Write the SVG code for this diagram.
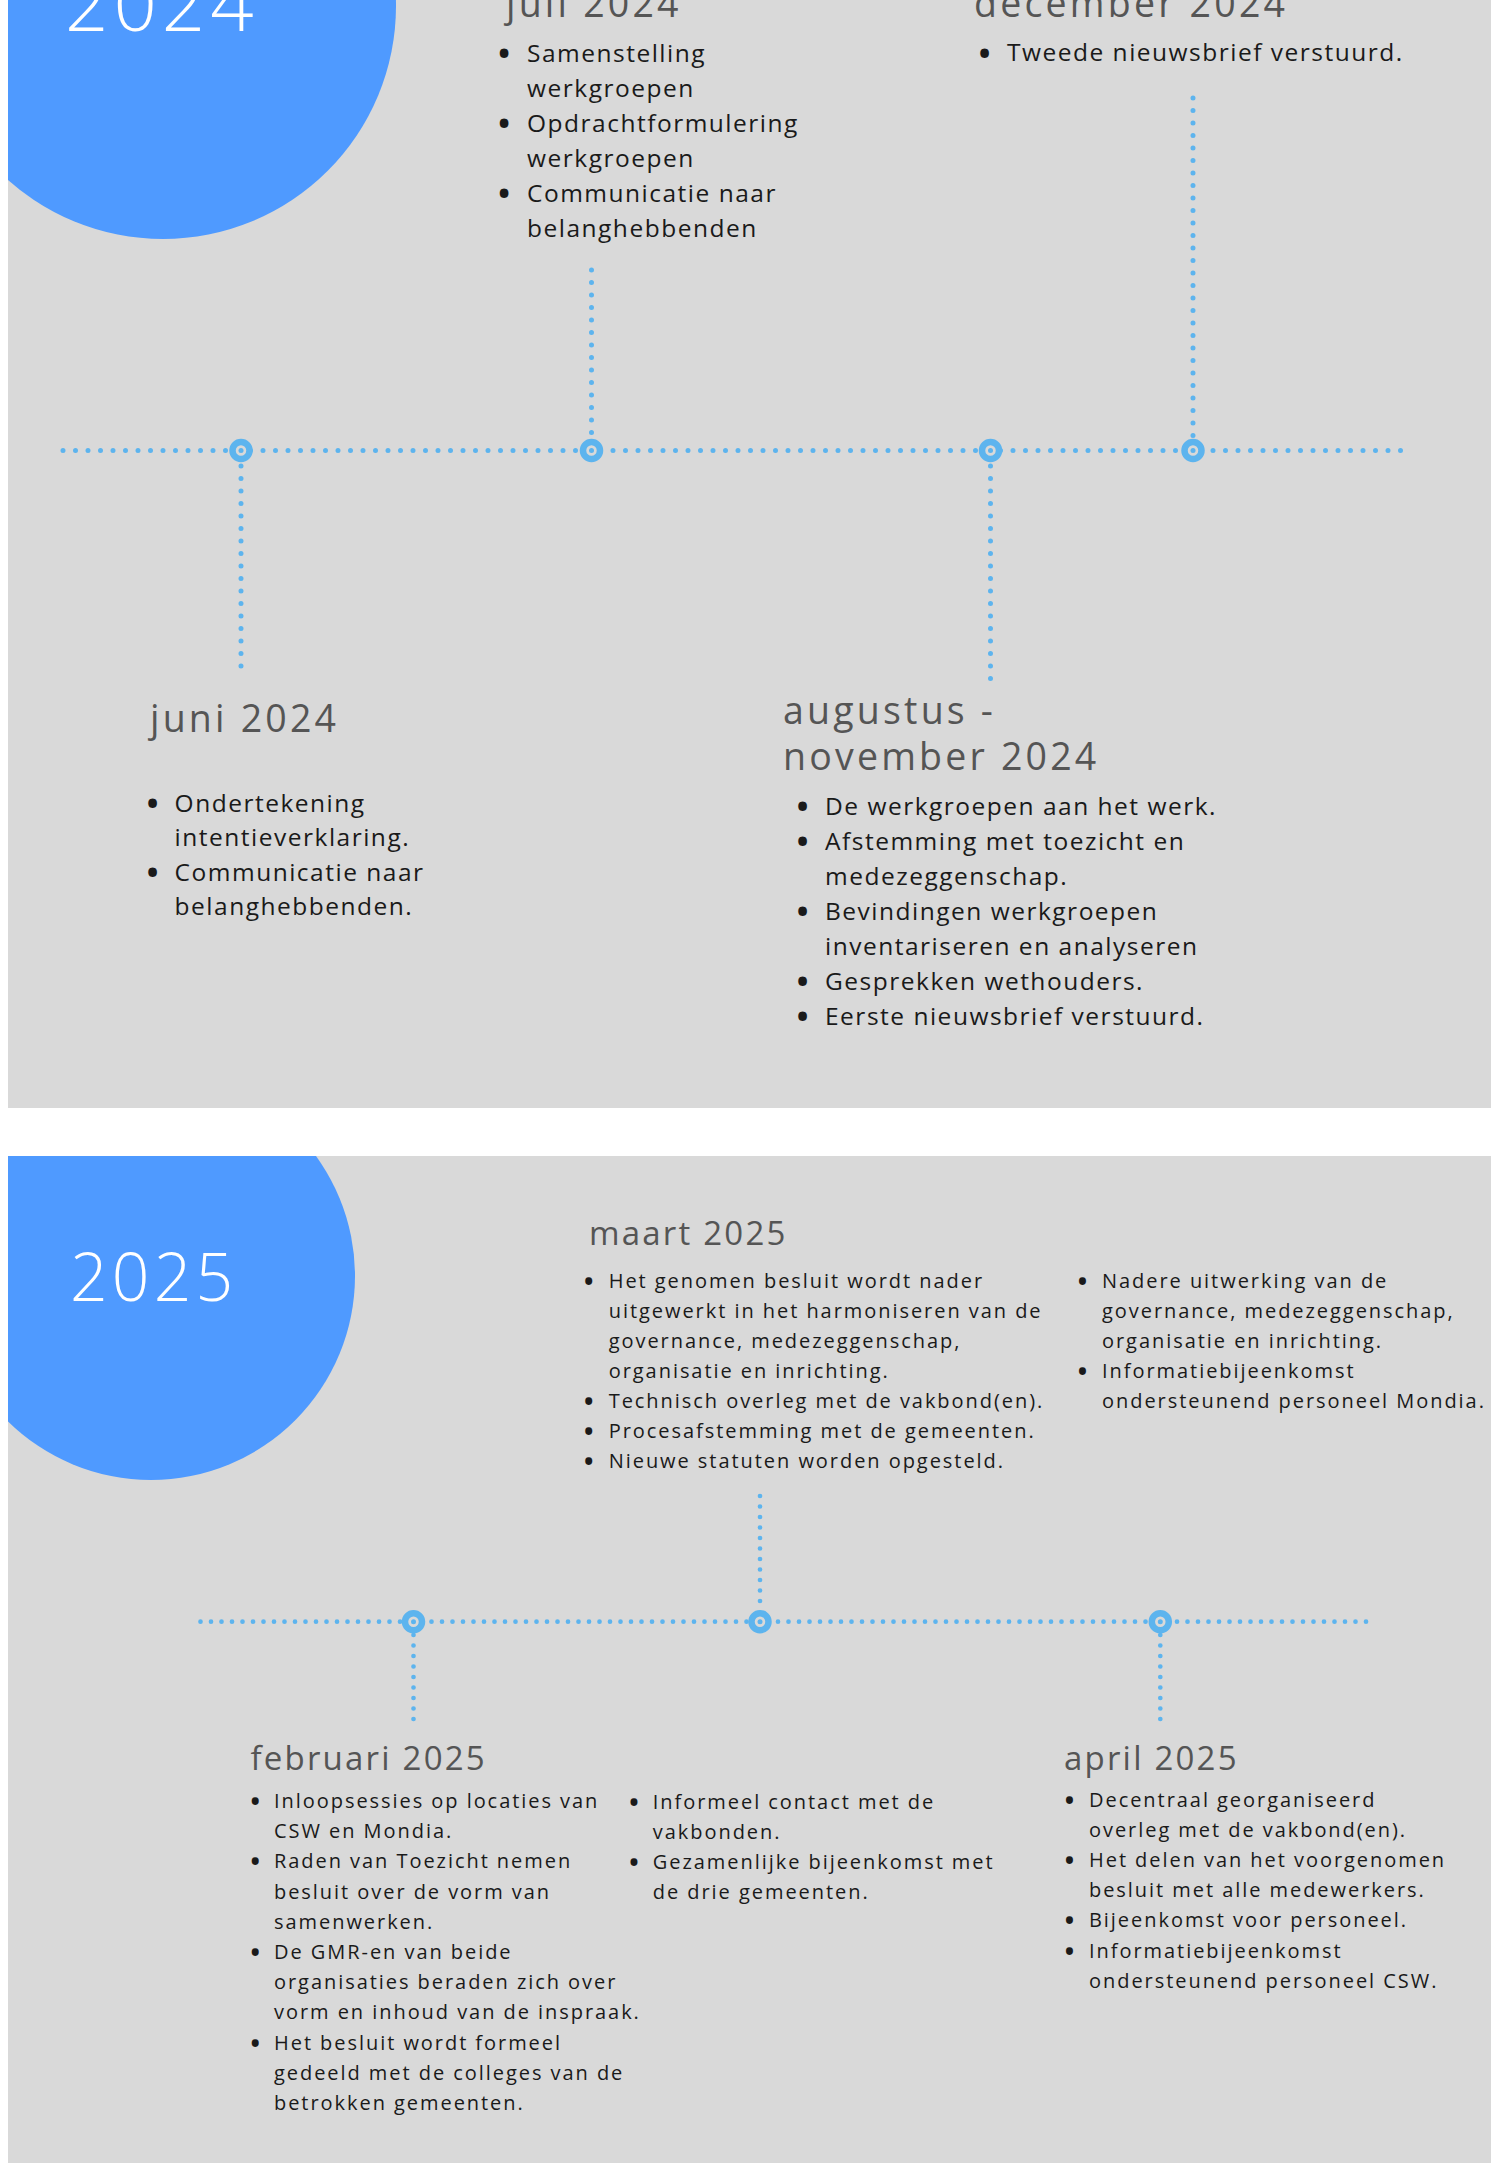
<svg xmlns="http://www.w3.org/2000/svg" width="1491" height="2172" viewBox="0 0 1491 2172">
<defs>
<clipPath id="clipTop"><rect x="8" y="0" width="1483" height="1108"/></clipPath>
<clipPath id="clipBot"><rect x="8" y="1156" width="1483" height="1007"/></clipPath>
</defs>
<style>
.panel{fill:#d9d9d9}
.yearc{fill:#4f9aff}
text{font-family:'Open Sans','Liberation Sans',sans-serif}
.yt{font-weight:300;fill:#ffffff}
.t24{font-size:37.5px;letter-spacing:3.2px;fill:#555555}
.t25{font-size:33px;letter-spacing:2.2px;fill:#555555}
.b24{font-size:24.5px;letter-spacing:1.5px;fill:#1a1a1a}
.b25{font-size:20px;letter-spacing:1.95px;fill:#1a1a1a}
.bul{letter-spacing:0px;text-anchor:middle;font-weight:700}
.b24.bul{font-size:31px}
.b25.bul{font-size:25px}
.d24{fill:none;stroke:#5db4ee;stroke-width:5;stroke-linecap:round;stroke-dasharray:0 12.5}
.d25{fill:none;stroke:#5db4ee;stroke-width:4.7;stroke-linecap:round;stroke-dasharray:0 10.5}
.ring{fill:#d9d9d9;stroke:#5db4ee;stroke-width:6.5}
.hub{fill:#5db4ee}
</style>
<rect width="1491" height="2172" fill="#ffffff"/>
<rect class="panel" x="8" y="0" width="1483" height="1108"/>
<rect class="panel" x="8" y="1156" width="1483" height="1007"/>

<g id="connectors">
<path class="d24" d="M63 450.5H1413"/>
<path class="d24" d="M241 466V668"/>
<path class="d24" d="M591.5 270V436"/>
<path class="d24" d="M990.5 466V682"/>
<path class="d24" d="M1193 98V436"/>
<path class="d25" d="M200.5 1621.7H1367"/>
<path class="d25" d="M413.5 1635V1727"/>
<path class="d25" d="M760 1496V1608"/>
<path class="d25" d="M1160.3 1635V1727"/>
</g>

<g id="year-2024" clip-path="url(#clipTop)">
<circle class="yearc" cx="163" cy="6" r="233"/>
<text class="yt" x="65" y="31" font-size="76" style="letter-spacing:5px">2024</text>
</g>

<g id="year-2025" clip-path="url(#clipBot)">
<circle class="yearc" cx="151" cy="1276" r="204"/>
<text class="yt" x="70" y="1300.7" font-size="66" style="letter-spacing:4.2px">2025</text>
</g>

<g id="juni-2024">
<circle class="ring" cx="241" cy="450.5" r="8.5"/><circle class="hub" cx="241" cy="450.5" r="2.5"/>
<text class="t24" x="150" y="731.5">juni 2024</text>
<text class="b24 bul" x="152.5" y="814">•</text>
<text class="b24 bul" x="152.5" y="883">•</text>
<text class="b24"><tspan x="174.6" y="811.5">Ondertekening</tspan><tspan x="174.6" y="846">intentieverklaring.</tspan><tspan x="174.6" y="880.5">Communicatie naar</tspan><tspan x="174.6" y="915">belanghebbenden.</tspan></text>
</g>

<g id="juli-2024">
<circle class="ring" cx="591.5" cy="450.5" r="8.5"/><circle class="hub" cx="591.5" cy="450.5" r="2.5"/>
<text class="t24" x="506" y="17">juli 2024</text>
<text class="b24 bul" x="504" y="64.2">•</text>
<text class="b24 bul" x="504" y="134.2">•</text>
<text class="b24 bul" x="504" y="204.2">•</text>
<text class="b24"><tspan x="527" y="61.7">Samenstelling</tspan><tspan x="527" y="96.7">werkgroepen</tspan><tspan x="527" y="131.7">Opdrachtformulering</tspan><tspan x="527" y="166.7">werkgroepen</tspan><tspan x="527" y="201.7">Communicatie naar</tspan><tspan x="527" y="236.7">belanghebbenden</tspan></text>
</g>

<g id="augustus-november-2024">
<circle class="ring" cx="990.5" cy="450.5" r="8.5"/><circle class="hub" cx="990.5" cy="450.5" r="2.5"/>
<text class="t24"><tspan x="783" y="724">augustus -</tspan><tspan x="783" y="770">november 2024</tspan></text>
<text class="b24 bul" x="802.5" y="817.1">•</text>
<text class="b24 bul" x="802.5" y="852.1">•</text>
<text class="b24 bul" x="802.5" y="922.1">•</text>
<text class="b24 bul" x="802.5" y="992.1">•</text>
<text class="b24 bul" x="802.5" y="1027.1">•</text>
<text class="b24"><tspan x="825" y="814.6">De werkgroepen aan het werk.</tspan><tspan x="825" y="849.6">Afstemming met toezicht en</tspan><tspan x="825" y="884.6">medezeggenschap.</tspan><tspan x="825" y="919.6">Bevindingen werkgroepen</tspan><tspan x="825" y="954.6">inventariseren en analyseren</tspan><tspan x="825" y="989.6">Gesprekken wethouders.</tspan><tspan x="825" y="1024.6">Eerste nieuwsbrief verstuurd.</tspan></text>
</g>

<g id="december-2024">
<circle class="ring" cx="1193" cy="450.5" r="8.5"/><circle class="hub" cx="1193" cy="450.5" r="2.5"/>
<text class="t24" x="974" y="17">december 2024</text>
<text class="b24 bul" x="984.5" y="63.5">•</text>
<text class="b24" x="1007" y="61">Tweede nieuwsbrief verstuurd.</text>
</g>

<g id="februari-2025">
<circle class="ring" cx="413.5" cy="1621.7" r="8.5"/><circle class="hub" cx="413.5" cy="1621.7" r="2.5"/>
<text class="t25" x="250.5" y="1770">februari 2025</text>
<text class="b25 bul" x="255.3" y="1810">•</text>
<text class="b25 bul" x="255.3" y="1870.4">•</text>
<text class="b25 bul" x="255.3" y="1961">•</text>
<text class="b25 bul" x="255.3" y="2051.6">•</text>
<text class="b25"><tspan x="274" y="1808">Inloopsessies op locaties van</tspan><tspan x="274" y="1838.2">CSW en Mondia.</tspan><tspan x="274" y="1868.4">Raden van Toezicht nemen</tspan><tspan x="274" y="1898.6">besluit over de vorm van</tspan><tspan x="274" y="1928.8">samenwerken.</tspan><tspan x="274" y="1959">De GMR-en van beide</tspan><tspan x="274" y="1989.2">organisaties beraden zich over</tspan><tspan x="274" y="2019.4">vorm en inhoud van de inspraak.</tspan><tspan x="274" y="2049.6">Het besluit wordt formeel</tspan><tspan x="274" y="2079.8">gedeeld met de colleges van de</tspan><tspan x="274" y="2110">betrokken gemeenten.</tspan></text>
<text class="b25 bul" x="634" y="1810.5">•</text>
<text class="b25 bul" x="634" y="1870.9">•</text>
<text class="b25"><tspan x="652.8" y="1808.5">Informeel contact met de</tspan><tspan x="652.8" y="1838.7">vakbonden.</tspan><tspan x="652.8" y="1868.9">Gezamenlijke bijeenkomst met</tspan><tspan x="652.8" y="1899.1">de drie gemeenten.</tspan></text>
</g>

<g id="maart-2025">
<circle class="ring" cx="760" cy="1621.7" r="8.5"/><circle class="hub" cx="760" cy="1621.7" r="2.5"/>
<text class="t25" x="589" y="1245">maart 2025</text>
<text class="b25 bul" x="588.8" y="1290">•</text>
<text class="b25 bul" x="588.8" y="1410">•</text>
<text class="b25 bul" x="588.8" y="1440">•</text>
<text class="b25 bul" x="588.8" y="1470">•</text>
<text class="b25"><tspan x="608.7" y="1288">Het genomen besluit wordt nader</tspan><tspan x="608.7" y="1318">uitgewerkt in het harmoniseren van de</tspan><tspan x="608.7" y="1348">governance, medezeggenschap,</tspan><tspan x="608.7" y="1378">organisatie en inrichting.</tspan><tspan x="608.7" y="1408">Technisch overleg met de vakbond(en).</tspan><tspan x="608.7" y="1438">Procesafstemming met de gemeenten.</tspan><tspan x="608.7" y="1468">Nieuwe statuten worden opgesteld.</tspan></text>
<text class="b25 bul" x="1082.5" y="1290">•</text>
<text class="b25 bul" x="1082.5" y="1380">•</text>
<text class="b25"><tspan x="1102" y="1288">Nadere uitwerking van de</tspan><tspan x="1102" y="1318">governance, medezeggenschap,</tspan><tspan x="1102" y="1348">organisatie en inrichting.</tspan><tspan x="1102" y="1378">Informatiebijeenkomst</tspan><tspan x="1102" y="1408">ondersteunend personeel Mondia.</tspan></text>
</g>

<g id="april-2025">
<circle class="ring" cx="1160.3" cy="1621.7" r="8.5"/><circle class="hub" cx="1160.3" cy="1621.7" r="2.5"/>
<text class="t25" x="1064" y="1770">april 2025</text>
<text class="b25 bul" x="1069.4" y="1808.5">•</text>
<text class="b25 bul" x="1069.4" y="1868.9">•</text>
<text class="b25 bul" x="1069.4" y="1929.3">•</text>
<text class="b25 bul" x="1069.4" y="1959.5">•</text>
<text class="b25"><tspan x="1089" y="1806.5">Decentraal georganiseerd</tspan><tspan x="1089" y="1836.7">overleg met de vakbond(en).</tspan><tspan x="1089" y="1866.9">Het delen van het voorgenomen</tspan><tspan x="1089" y="1897.1">besluit met alle medewerkers.</tspan><tspan x="1089" y="1927.3">Bijeenkomst voor personeel.</tspan><tspan x="1089" y="1957.5">Informatiebijeenkomst</tspan><tspan x="1089" y="1987.7">ondersteunend personeel CSW.</tspan></text>
</g>
</svg>
